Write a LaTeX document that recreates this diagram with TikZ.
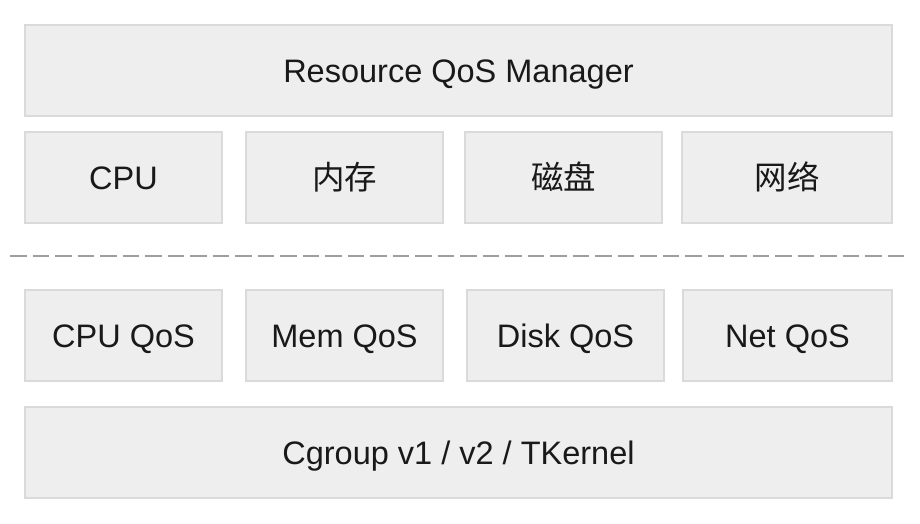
\documentclass[tikz,border=0pt]{standalone}
\usepackage{fontspec}
\setmainfont{Liberation Sans}
\newfontfamily\cjk{Noto Sans CJK SC}
\definecolor{boxfill}{HTML}{EEEEEE}
\definecolor{boxline}{HTML}{DADADA}
\definecolor{dashcol}{HTML}{9E9E9E}
\begin{document}
\begin{tikzpicture}[x=1pt,y=-1pt,
  box/.style={draw=boxline, fill=boxfill, line width=1.2pt, anchor=north west,
    inner sep=0pt, outer sep=0pt, font=\fontsize{32.5}{38}\selectfont, text=black!90,
    text height=23.5pt, text depth=0pt},
  sep/.style={draw=dashcol, line width=1.6pt, dash pattern=on 16.5pt off 6pt}]
\useasboundingbox (0,0) rectangle (920,524);
\node[box, minimum width=867pt, minimum height=91pt] (mgr) at (25,25) {Resource QoS Manager};
\node[box, minimum width=197pt, minimum height=91pt] (cpu) at (25,132) {CPU};
\node[box, minimum width=197pt, minimum height=91pt] (mem) at (246,132) {\cjk 内存};
\node[box, minimum width=197pt, minimum height=91pt] (disk) at (465,132) {\cjk 磁盘};
\node[box, minimum width=210pt, minimum height=91pt] (net) at (682,132) {\cjk 网络};
\coordinate (dl) at (10,256);
\coordinate (dr) at (908,256);
\draw[sep] (dl) -- (dr);
\node[box, minimum width=197pt, minimum height=91pt] (cpuq) at (25,290) {CPU QoS};
\node[box, minimum width=197pt, minimum height=91pt] (memq) at (246,290) {Mem QoS};
\node[box, minimum width=197pt, minimum height=91pt] (diskq) at (467,290) {Disk QoS};
\node[box, minimum width=209pt, minimum height=91pt] (netq) at (683,290) {Net QoS};
\node[box, minimum width=867pt, minimum height=91pt] (cg) at (25,407) {Cgroup v1 / v2 / TKernel};
\end{tikzpicture}
\end{document}
